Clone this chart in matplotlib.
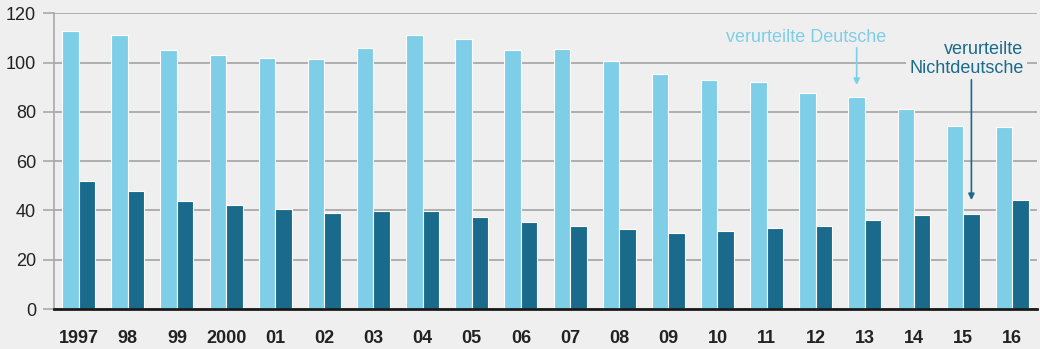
import matplotlib.pyplot as plt
import numpy as np

# Data (in 1000s)
years = ['1997', '98', '99', '2000', '01', '02', '03', '04', '05', '06',
         '07', '08', '09', '10', '11', '12', '13', '14', '15', '16']
deutsche = [112.9, 111.3, 105.2, 103.1, 102.0, 101.6, 106.1, 111.1, 109.4, 105.1,
            105.4, 100.6, 95.5, 93.1, 92.0, 87.8, 86.2, 81.2, 74.4, 73.9]
nichtdeutsche = [52.1, 47.8, 43.8, 42.3, 40.5, 38.8, 39.8, 39.6, 37.3, 35.3,
                 33.7, 32.5, 30.7, 31.8, 33.0, 33.7, 36.1, 38.1, 38.7, 44.4]
yticks = [0, 20, 40, 60, 80, 100, 120]

bg = '#efefef'
light = '#7fcee8'
dark = '#1a6a8c'

plt.rcParams['font.family'] = ['Liberation Sans', 'DejaVu Sans']

fig = plt.figure(figsize=(10.4, 3.49), dpi=100, facecolor=bg)
ax = fig.add_axes([0.052, 0.1146, 0.945, 0.8474], facecolor=bg)

x = np.arange(len(years))
w = 0.335
ax.bar(x - w / 2, deutsche, w, color=light, edgecolor='white', linewidth=0.8, zorder=3)
ax.bar(x + w / 2, nichtdeutsche, w, color=dark, edgecolor='white', linewidth=0.8, zorder=3)

ax.set_xlim(-0.5, 19.5)
ax.set_ylim(0, 120)
ax.set_yticks(yticks)
ax.yaxis.grid(True, color='#a9a9a9', linewidth=1.3, zorder=0)
ax.set_axisbelow(True)

ax.set_xticks(x)
ax.set_xticklabels(years, fontsize=13, fontweight='bold', color='#222222')
ax.tick_params(axis='x', length=0, pad=15)
ax.tick_params(axis='y', length=8, width=1.2, color='#a9a9a9', labelsize=13,
               labelcolor='#222222', pad=5)

for s in ['top', 'right']:
    ax.spines[s].set_visible(False)
ax.spines['left'].set_color('#a9a9a9')
ax.spines['left'].set_linewidth(1.2)
ax.spines['bottom'].set_color('#1a1a1a')
ax.spines['bottom'].set_linewidth(2)
ax.spines['bottom'].set_zorder(4)

# Annotations: labels with background boxes, straight vertical arrows
box = dict(boxstyle='square,pad=0.2', fc=bg, ec='none')
ax.text(16.44, 110, 'verurteilte Deutsche', ha='right', va='center', fontsize=13,
        color=light, bbox=box, zorder=5)
ax.annotate('', xy=(16 - w / 2, 90.9), xytext=(16 - w / 2, 106),
            arrowprops=dict(arrowstyle='-|>', color=light, lw=1.2, mutation_scale=9,
                            shrinkA=0, shrinkB=0), zorder=5)

ax.text(19.23, 101.5, 'verurteilte\nNichtdeutsche', ha='right', va='center', fontsize=13,
        color=dark, linespacing=1.1, bbox=box, zorder=5)
ax.annotate('', xy=(18 + w / 2, 44.2), xytext=(18 + w / 2, 93),
            arrowprops=dict(arrowstyle='-|>', color=dark, lw=1.2, mutation_scale=9,
                            shrinkA=0, shrinkB=0), zorder=5)

fig.savefig('out.png', dpi=100, facecolor=bg)
